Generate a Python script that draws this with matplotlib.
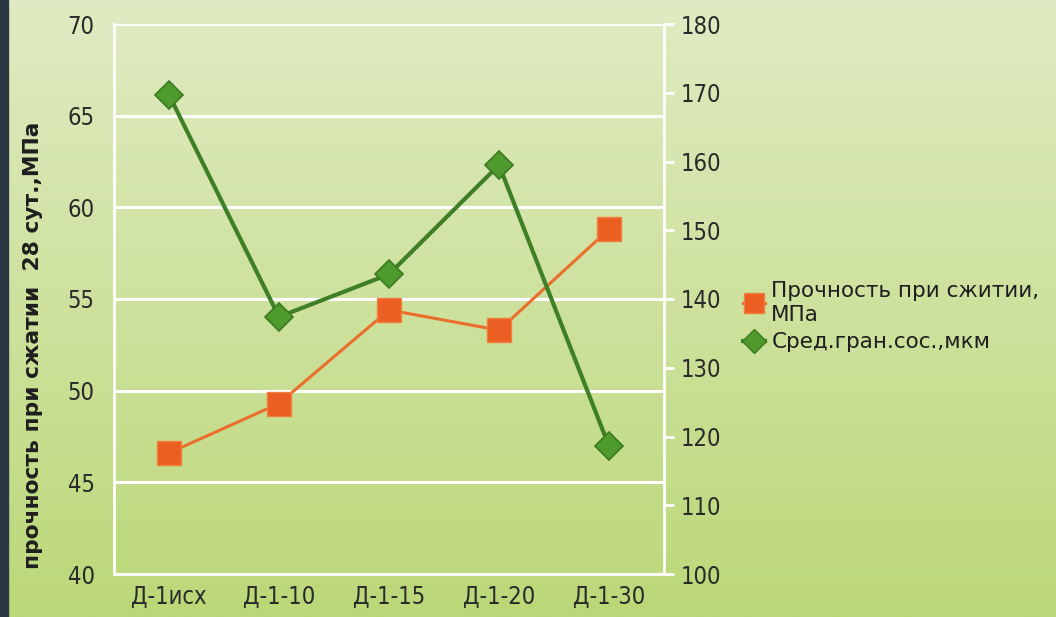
import numpy as np
import matplotlib.pyplot as plt
from matplotlib.patches import Rectangle
from matplotlib.lines import Line2D

# samples and measurements
samples = ["Д-1исх", "Д-1-10", "Д-1-15", "Д-1-20", "Д-1-30"]
strength = [46.6, 49.3, 54.4, 53.3, 58.8]        # МПа, left axis
grain_size = [169.7, 137.4, 143.6, 159.5, 118.6]  # мкм, right axis

left_ticks = [40, 45, 50, 55, 60, 65, 70]
right_ticks = [100, 110, 120, 130, 140, 150, 160, 170, 180]

W, H = 1056, 617
fig = plt.figure(figsize=(W / 100, H / 100), dpi=100)

# green vertical gradient background
bg = fig.add_axes([0, 0, 1, 1], zorder=-10)
top = np.array([0xe0, 0xeb, 0xc3]) / 255
bot = np.array([0xbb, 0xd8, 0x78]) / 255
t = np.linspace(0, 1, 256)[:, None]
grad = top * (1 - t) + bot * t
bg.imshow(grad[:, None, :].repeat(2, axis=1), aspect="auto", extent=[0, 1, 0, 1])
bg.add_patch(Rectangle((0, 0), 8 / W, 1, color="#2b3843"))
bg.set_axis_off()

ax = fig.add_axes([114 / W, 43 / H, 550 / W, 550 / H])
ax.patch.set_visible(False)
ax2 = ax.twinx()

x = np.arange(len(samples))

ax.plot(x, strength, color="#ec6e2c", lw=2.2, marker="s", ms=17,
        mfc="#ec5f22", mec="#f08040", mew=1, zorder=3)
ax2.plot(x, grain_size, color="#3f7f26", lw=3, marker="D", ms=14,
         mfc="#4f9a2c", mec="#3a7a20", mew=1.2, zorder=3)

ax.set_xlim(-0.5, len(samples) - 0.5)
ax.set_ylim(40, 70)
ax.set_yticks(left_ticks)
ax2.set_ylim(100, 180)
ax2.set_yticks(right_ticks)
ax.set_xticks(x)
ax.set_xticklabels(samples)

ax.grid(axis="y", color="white", lw=2.2)
ax.set_axisbelow(True)

for a in (ax, ax2):
    for s in a.spines.values():
        s.set_visible(False)
ax.spines["left"].set_visible(True)
ax.spines["bottom"].set_visible(True)
ax2.spines["right"].set_visible(True)
for s in (ax.spines["left"], ax.spines["bottom"], ax2.spines["right"]):
    s.set_color("white")
    s.set_linewidth(2)

tick_font = dict(family="DejaVu Sans", stretch="condensed", size=17)
ax.tick_params(axis="y", length=0, pad=14, labelcolor="#2a2a2a")
ax.tick_params(axis="x", length=0, pad=8, labelcolor="#2a2a2a")
ax2.tick_params(axis="y", length=7, width=2, color="white", pad=5, labelcolor="#2a2a2a")
for lbl in ax.get_yticklabels() + ax.get_xticklabels() + ax2.get_yticklabels():
    lbl.set_fontproperties(tick_font)
    lbl.set_fontsize(17)

fig.text(33 / W, 1 - 345 / H, "прочность при сжатии  28 сут.,МПа", rotation=90,
         ha="center", va="center", fontsize=15.7, fontweight="bold",
         family="DejaVu Sans", color="#1e1e1e")

handles = [
    Line2D([], [], color="#ec6e2c", lw=2.2, marker="s", ms=15,
           mfc="#ec5f22", mec="#f08040"),
    Line2D([], [], color="#3f7f26", lw=3, marker="D", ms=12,
           mfc="#4f9a2c", mec="#3a7a20"),
]
fig.legend(handles, ["Прочность при сжитии,\nМПа", "Сред.гран.сос.,мкм"],
           loc="upper left", bbox_to_anchor=(724 / W, 1 - 262 / H),
           frameon=False, handlelength=1.0, handletextpad=0.3,
           labelspacing=0.35, prop=dict(family="DejaVu Sans", size=15.5),
           labelcolor="#1e1e1e")

fig.savefig("out.png", dpi=100)
